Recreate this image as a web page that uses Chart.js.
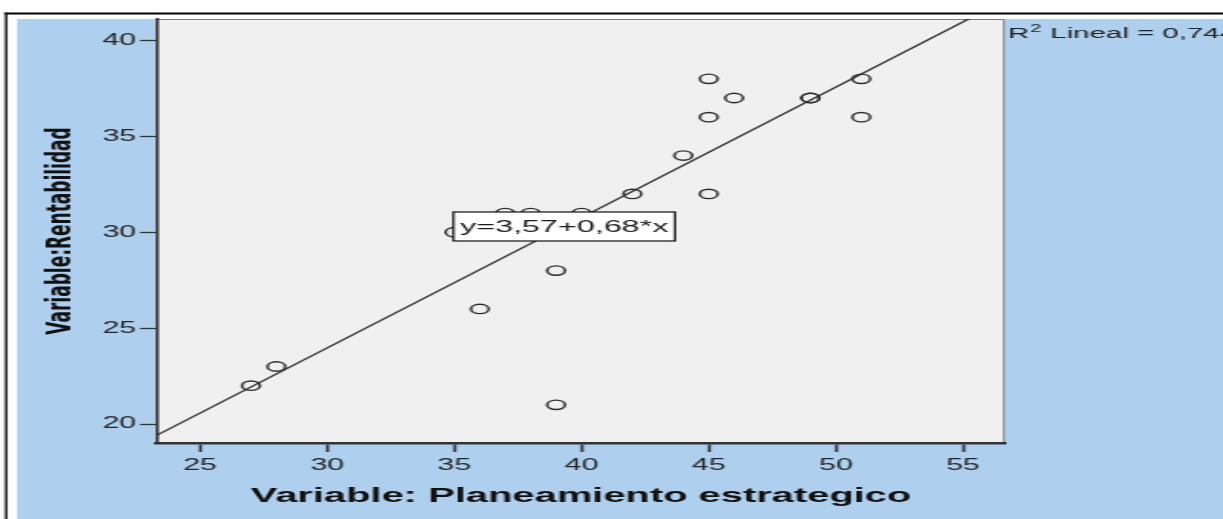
<!DOCTYPE html>
<html>
<head>
<meta charset="utf-8">
<script src="https://cdn.jsdelivr.net/npm/chart.js@4.4.1/dist/chart.umd.min.js"></script>
<style>
  html, body { margin: 0; padding: 0; background: #ffffff; overflow: hidden; }
</style>
</head>
<body>
<!-- the drawing surface is rendered at a narrow size and widened by CSS, giving the wide SPSS look -->
<canvas id="grafico" width="644" height="519" style="width:1223px;height:519px;display:block"></canvas>
<script>
// Observations: strategic planning score (x) and profitability score (y)
const planeamiento = [27, 28, 35, 36, 37, 38, 39, 39, 40, 42, 44, 45, 45, 45, 46, 49, 49, 51, 51];
const rentabilidad = [22, 23, 30, 26, 31, 31, 28, 21, 31, 32, 34, 38, 36, 32, 37, 37, 37, 38, 36];

// Axis ticks and ranges
const xTickValues = [25, 30, 35, 40, 45, 50, 55];
const yTickValues = [20, 25, 30, 35, 40];
const xRange = [23.31, 56.65];
const yRange = [19.01, 41.12];

// Fitted linear model
const intercept = 3.57;
const slope = 0.68;
const r2Text = '0,744';
const equationText = 'y=3,57+0,68*x';

// Texts
const xTitle = 'Variable: Planeamiento estrategico';
const yTitle = 'Variable:Rentabilidad';

const puntos = planeamiento.map((x, i) => ({ x: x, y: rentabilidad[i] }));
const recta = xRange.map(x => ({ x: x, y: intercept + slope * x }));

const SANS = '"Liberation Sans", Arial, sans-serif';

const marco = {
  id: 'marco',
  beforeDraw(chart) {
    const { ctx, width, height, chartArea: a } = chart;
    ctx.save();
    ctx.fillStyle = '#ffffff';
    ctx.fillRect(0, 0, width, height);
    // outer blue panel
    ctx.fillStyle = '#aecfee';
    ctx.fillRect(9, 19, width - 9, height - 19);
    // black frame (top and left)
    ctx.strokeStyle = '#000000';
    ctx.lineWidth = 2;
    ctx.beginPath();
    ctx.moveTo(2.5, 13.5);
    ctx.lineTo(width, 13.5);
    ctx.stroke();
    ctx.lineWidth = 1.3;
    ctx.beginPath();
    ctx.moveTo(3.2, 12.5);
    ctx.lineTo(3.2, height);
    ctx.stroke();
    // plot background
    ctx.fillStyle = '#f0f0f0';
    ctx.fillRect(a.left, a.top, a.right - a.left, a.bottom - a.top);
    // top and right edges of the plot
    ctx.strokeStyle = '#7a7a7a';
    ctx.lineWidth = 1;
    ctx.beginPath();
    ctx.moveTo(a.left, a.top + 0.5);
    ctx.lineTo(a.right - 0.5, a.top + 0.5);
    ctx.lineTo(a.right - 0.5, a.bottom);
    ctx.stroke();
    ctx.restore();
  },
  afterDatasetsDraw(chart) {
    const { ctx, chartArea: a } = chart;
    const xs = chart.scales.x, ys = chart.scales.y;
    ctx.save();
    // equation label
    ctx.font = '17px ' + SANS;
    const tw = ctx.measureText(equationText).width;
    const bx = xs.getPixelForValue(35) - 0.5;
    const cy = ys.getPixelForValue(30.3);
    const bw = tw + 7, bh = 29;
    ctx.fillStyle = '#ffffff';
    ctx.fillRect(bx, cy - bh / 2, bw, bh);
    ctx.strokeStyle = '#111111';
    ctx.lineWidth = 1.2;
    ctx.strokeRect(bx, cy - bh / 2, bw, bh);
    ctx.fillStyle = '#1a1a1a';
    ctx.textBaseline = 'middle';
    ctx.textAlign = 'left';
    ctx.fillText(equationText, bx + 3.5, cy + 1);

    // R squared note beside the plot
    const rx = a.right + 1.5, base = 37.5;
    ctx.textBaseline = 'alphabetic';
    ctx.font = '15.5px ' + SANS;
    ctx.fillStyle = '#222222';
    ctx.fillText('R', rx, base);
    const wR = ctx.measureText('R').width;
    ctx.font = '10.5px ' + SANS;
    ctx.fillText('2', rx + wR + 0.5, base - 6);
    const w2 = ctx.measureText('2').width;
    ctx.font = '15.5px ' + SANS;
    ctx.fillText(' Lineal = ' + r2Text, rx + wR + w2 + 1, base);
    ctx.restore();
  }
};

new Chart(document.getElementById('grafico'), {
  type: 'scatter',
  data: {
    datasets: [
      {
        label: 'Observaciones',
        data: puntos,
        pointStyle: 'circle',
        pointRadius: 4.7,
        pointHoverRadius: 4.7,
        backgroundColor: 'rgba(0,0,0,0)',
        borderColor: '#2b2b2b',
        borderWidth: 1.4
      },
      {
        label: 'Ajuste lineal',
        data: recta,
        showLine: true,
        pointRadius: 0,
        borderColor: '#2b2b2b',
        borderWidth: 1.3,
        fill: false
      }
    ]
  },
  options: {
    responsive: false,
    devicePixelRatio: 1,
    animation: false,
    events: [],
    layout: { padding: { left: 0, top: 19, right: 114.8, bottom: 0 } },
    plugins: { legend: { display: false }, tooltip: { enabled: false } },
    scales: {
      x: {
        type: 'linear',
        min: xRange[0],
        max: xRange[1],
        afterBuildTicks: s => { s.ticks = xTickValues.map(v => ({ value: v })); },
        afterFit: s => { s.height = 76; },
        grid: { drawOnChartArea: false, drawTicks: true, tickLength: 9, tickWidth: 1.6, tickColor: '#333333' },
        border: { display: true, color: '#333333', width: 2.5 },
        ticks: {
          includeBounds: false,
          padding: 4,
          color: '#262626',
          font: { family: SANS, size: 16 },
          callback: v => String(v)
        },
        title: {
          display: true,
          text: xTitle,
          color: '#111111',
          font: { family: SANS, size: 21, weight: 'bold' },
          padding: { top: 0, bottom: 10 }
        }
      },
      y: {
        type: 'linear',
        min: yRange[0],
        max: yRange[1],
        afterBuildTicks: s => { s.ticks = yTickValues.map(v => ({ value: v })); },
        afterFit: s => { s.width = 82.7; },
        grid: { drawOnChartArea: false, drawTicks: true, tickLength: 9, tickWidth: 1.3, tickColor: '#333333' },
        border: { display: true, color: '#333333', width: 1.6 },
        ticks: {
          includeBounds: false,
          padding: 2,
          color: '#262626',
          font: { family: SANS, size: 16 },
          callback: v => String(v)
        },
        title: {
          display: true,
          text: yTitle,
          color: '#111111',
          font: { family: '"DejaVu Sans", sans-serif', size: 17, weight: 'bold' },
          padding: { top: 22, bottom: 0 }
        }
      }
    }
  },
  plugins: [marco]
});
</script>
</body>
</html>
